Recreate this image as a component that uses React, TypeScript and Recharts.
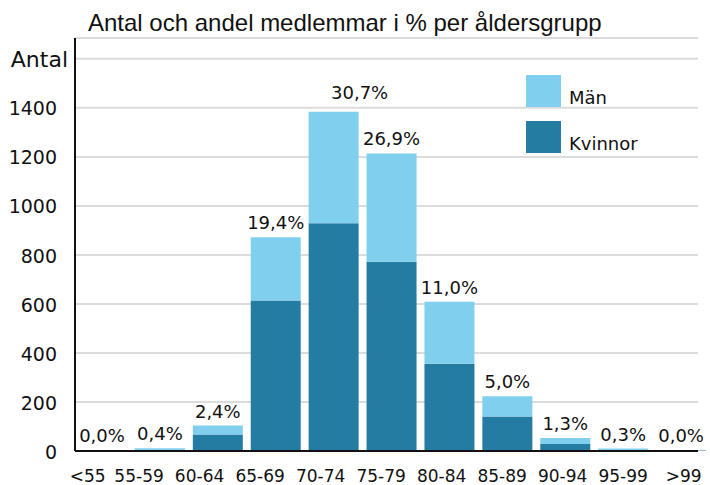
import React from 'react';
import { BarChart, Bar, XAxis, YAxis, CartesianGrid, LabelList } from 'recharts';

const ageGroups = ['<55', '55-59', '60-64', '65-69', '70-74', '75-79', '80-84', '85-89', '90-94', '95-99', '>99'];
const kvinnor = [3, 3, 67, 614, 929, 772, 356, 141, 29, 2, 2];
const man = [1, 8, 37, 258, 455, 442, 253, 82, 24, 8, 1];
const shareLabels = ['0,0%', '0,4%', '2,4%', '19,4%', '30,7%', '26,9%', '11,0%', '5,0%', '1,3%', '0,3%', '0,0%'];
const yTicks = [0, 200, 400, 600, 800, 1000, 1200, 1400, 1600];

const DARK = '#257ca3';
const LIGHT = '#80cfee';
const FONT = '"DejaVu Sans", sans-serif';

const data = ageGroups.map((group, i) => ({
  group,
  kvinnor: kvinnor[i],
  man: man[i],
  share: shareLabels[i]
}));

const YTick = (props: any) => {
  const { x, y, payload } = props;
  if (payload.value === 1600) {
    return (
      <text x={x + 11} y={y} dy="0.36em" textAnchor="end" fontFamily={FONT} fontSize={22} fill="#111">
        Antal
      </text>
    );
  }
  return (
    <text x={x} y={y} dy="0.4em" textAnchor="end" fontFamily={FONT} fontSize={19} fill="#111">
      {payload.value}
    </text>
  );
};

// category labels in the original drift slightly left of the bars, and are kept inside the frame
const XTick = (props: any) => {
  const { x, y, payload, index } = props;
  const halfWidth = String(payload.value).length * 5.2;
  let cx = x + (index - 9) * 2.6;
  cx = Math.max(cx, 72 + halfWidth);
  cx = Math.min(cx, 708 - halfWidth);
  return (
    <text x={cx} y={y} dy="0.71em" textAnchor="middle" fontFamily={FONT} fontSize={17} fill="#111">
      {payload.value}
    </text>
  );
};

const ShareLabel = (props: any) => {
  const { x, y, width, value } = props;
  // the 70-74 label sits a bit off to the right in the original
  const isPeak = value === '30,7%';
  return (
    <text
      x={x + width / 2 + (isPeak ? 26 : 0)}
      y={y + (isPeak ? -13 : -8)}
      textAnchor="middle"
      fontFamily={FONT}
      fontSize={18}
      fill="#111"
    >
      {value}
    </text>
  );
};

const legendItems = [
  { name: 'Män', color: LIGHT },
  { name: 'Kvinnor', color: DARK }
];

export default function App() {
  return (
    <div style={{ position: 'absolute', left: 0, top: 0, width: 710, height: 485, background: '#fff' }}>
      <BarChart width={710} height={485} data={data} margin={{ top: 38, right: 12, bottom: 0, left: 0 }}>
        <CartesianGrid vertical={false} stroke="#dcdcdc" strokeWidth={2} />
        <XAxis
          dataKey="group"
          height={34}
          interval={0}
          padding={{ left: -2, right: -12 }}
          tickSize={0}
          tickMargin={19}
          axisLine={{ stroke: '#111', strokeWidth: 2 }}
          tick={<XTick />}
        />
        <YAxis
          width={75}
          domain={[0, 1685]}
          ticks={yTicks}
          interval={0}
          tickSize={0}
          tickMargin={18}
          axisLine={{ stroke: '#111', strokeWidth: 2 }}
          tick={<YTick />}
        />
        <Bar dataKey="kvinnor" name="Kvinnor" stackId="a" fill={DARK} barSize={50} isAnimationActive={false} />
        <Bar dataKey="man" name="Män" stackId="a" fill={LIGHT} barSize={50} isAnimationActive={false}>
          <LabelList dataKey="share" content={<ShareLabel />} />
        </Bar>
      </BarChart>

      {/* title */}
      <div
        style={{
          position: 'absolute',
          left: 88,
          top: 11,
          fontFamily: '"Liberation Sans", Arial, sans-serif',
          fontSize: 24,
          lineHeight: '24px',
          color: '#111',
          whiteSpace: 'nowrap'
        }}
      >
        Antal och andel medlemmar i % per åldersgrupp
      </div>

      {/* legend */}
      <div style={{ position: 'absolute', left: 526, top: 75, fontFamily: FONT, fontSize: 18, color: '#111' }}>
        {legendItems.map(item => (
          <div key={item.name} style={{ display: 'flex', alignItems: 'flex-end', height: 32, marginBottom: 14 }}>
            <div style={{ width: 35, height: 32, background: item.color }} />
            <span style={{ marginLeft: 8, lineHeight: '18px' }}>{item.name}</span>
          </div>
        ))}
      </div>
    </div>
  );
}
